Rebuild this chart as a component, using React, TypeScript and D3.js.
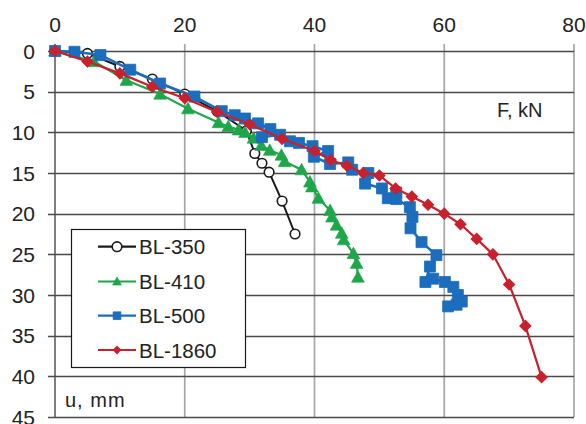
import React from "react";
import * as d3 from "d3";

const W = 586;
const H = 424;

const xTicks = [0, 20, 40, 60, 80];
const yTicks = [0, 5, 10, 15, 20, 25, 30, 35, 40, 45];

const seriesNames = ["BL-350", "BL-410", "BL-500", "BL-1860"];

const bl350F = [0, 5, 10, 15, 20, 25, 29.5, 30.8, 31.9, 33.0, 35.0, 37.0];
const bl350U = [0, 0.3, 1.9, 3.45, 5.3, 7.4, 9.8, 12.6, 13.8, 14.9, 18.45, 22.5];

const bl410F = [0, 6, 11, 16.2, 20.5, 25.2, 26.7, 28.3, 29.3, 30.6, 31.8, 33.1, 34.9, 35.4, 38.0, 39.3, 39.6, 40.6, 42.4, 42.7, 43.4, 44.2, 44.5, 46.0, 46.5, 46.7];
const bl410U = [0, 1.3, 3.6, 5.3, 7.1, 8.8, 9.3, 9.7, 10.0, 10.7, 11.6, 12.2, 12.8, 13.6, 14.6, 16.1, 16.7, 18.1, 19.6, 20.4, 21.4, 22.4, 23.2, 24.9, 26.1, 27.8];

const bl500F = [0, 3, 7, 11.6, 16.2, 21.5, 25.7, 27.7, 29.3, 31.3, 33.2, 31.9, 34.7, 36.2, 37.6, 39.7, 42.1, 39.9, 42.4, 45.2, 45.8, 48.3, 47.8, 50.4, 51.3, 52.6, 52.6, 54.7, 55.1, 54.8, 56.5, 58.8, 57.8, 57.1, 58.3, 60.1, 61.4, 62.1, 62.7, 61.9, 60.6];
const bl500U = [0, 0.1, 0.5, 2.3, 4.0, 5.6, 7.4, 7.9, 8.3, 8.9, 9.6, 10.6, 10.3, 11.1, 11.3, 11.7, 12.3, 13.0, 13.9, 13.7, 14.6, 15.0, 16.3, 16.9, 18.1, 17.4, 18.2, 19.2, 20.4, 21.8, 23.5, 25.1, 26.5, 28.4, 28.0, 28.4, 29.0, 30.0, 30.8, 31.2, 31.4];

const bl1860F = [0, 5, 10, 15, 20, 25, 30, 35, 40, 42.5, 45, 47.5, 50, 52.5, 55, 57.5, 60, 62.5, 65, 67.5, 70, 72.5, 75];
const bl1860U = [0, 1.3, 2.75, 4.4, 5.8, 7.5, 9.0, 10.8, 12.3, 13.4, 14.1, 15.0, 15.3, 16.9, 17.9, 18.9, 20.0, 21.3, 23.1, 25.0, 28.7, 33.8, 40.1];

const colors = ["#1a1a1a", "#1fa64a", "#1c6dbd", "#c8202c"];
const markers = ["circle", "triangle", "square", "diamond"];

const FONT = "'Liberation Sans', Arial, sans-serif";
const TXT = "#222";

type Pt = [number, number];

function Marker({ kind, x, y, color, scale = 1 }: { kind: string; x: number; y: number; color: string; scale?: number }) {
  if (kind === "circle") {
    const r = 4.8 * scale;
    return <circle cx={x} cy={y} r={r} fill="#fff" stroke={color} strokeWidth={1.6} />;
  }
  if (kind === "square") {
    const s = 11 * scale;
    return <rect x={x - s / 2} y={y - s / 2} width={s} height={s} fill={color} stroke={color} strokeWidth={0.8} strokeLinejoin="round" />;
  }
  if (kind === "diamond") {
    const s = 6.3 * scale;
    return <path d={`M${x},${y - s}L${x + s},${y}L${x},${y + s}L${x - s},${y}Z`} fill={color} />;
  }
  const s = 6.4 * scale;
  return <path d={`M${x},${y - s}L${x + s},${y + s * 0.8}L${x - s},${y + s * 0.8}Z`} fill={color} stroke={color} strokeWidth={0.6} strokeLinejoin="round" />;
}

export default function App() {
  const x = d3.scaleLinear().domain([0, 80]).range([55, 574]);
  const y = d3.scaleLinear().domain([0, 45]).range([51, 417]);

  const data: Pt[][] = [
    bl350F.map((f, i) => [f, bl350U[i]] as Pt),
    bl410F.map((f, i) => [f, bl410U[i]] as Pt),
    bl500F.map((f, i) => [f, bl500U[i]] as Pt),
    bl1860F.map((f, i) => [f, bl1860U[i]] as Pt),
  ];
  const widths = [2, 2.2, 2.6, 2.2];

  const line = d3
    .line<Pt>()
    .x((d) => x(d[0]))
    .y((d) => y(d[1]));

  const legX = 71;
  const legY = 229;
  const legW = 174;
  const legH = 138;
  const rowYs = [246.7, 281.5, 315.7, 350];

  return (
    <svg width={W} height={H} style={{ position: "absolute", left: 0, top: 0, background: "#fff" }} fontFamily={FONT}>
      <rect x={0} y={0} width={W} height={H} fill="#fff" />
      {/* vertical gridlines */}
      {xTicks.map((t) => (
        <line key={"vx" + t} x1={x(t)} x2={x(t)} y1={44} y2={y(45)} stroke={t === 0 ? "#3a3a3a" : "#a6a6a6"} strokeWidth={t === 0 ? 1.3 : 1.7} />
      ))}
      {/* horizontal gridlines */}
      {yTicks.map((t) => (
        <line key={"hy" + t} x1={48} x2={x(80)} y1={Math.round(y(t)) + 0.5} y2={Math.round(y(t)) + 0.5} stroke="#4a4a4a" strokeWidth={1.3} />
      ))}
      {/* x tick labels */}
      {xTicks.map((t) => (
        <text key={"xl" + t} x={x(t)} y={32} textAnchor="middle" fontSize={21} fill={TXT}>
          {t}
        </text>
      ))}
      {/* y tick labels */}
      {yTicks.map((t) => (
        <text key={"yl" + t} x={35} y={y(t) + 7.5} textAnchor="end" fontSize={21} fill={TXT}>
          {t}
        </text>
      ))}
      <text x={497} y={117} fontSize={20} fill={TXT}>
        F, kN
      </text>
      <text x={65} y={407} fontSize={20} fill={TXT} letterSpacing={1}>
        u, mm
      </text>

      {/* series */}
      {data.map((pts, si) => (
        <g key={"s" + si}>
          <path d={line(pts) || ""} fill="none" stroke={colors[si]} strokeWidth={widths[si]} strokeLinejoin="round" />
          {pts.map((p, i) => (
            <Marker key={i} kind={markers[si]} x={x(p[0])} y={y(p[1])} color={colors[si]} />
          ))}
        </g>
      ))}

      {/* legend */}
      <rect x={legX + 0.5} y={legY + 0.5} width={legW} height={legH} fill="#fff" stroke="#1a1a1a" strokeWidth={1.2} />
      {seriesNames.map((n, i) => (
        <g key={"lg" + i}>
          <line x1={98} x2={136} y1={rowYs[i]} y2={rowYs[i]} stroke={colors[i]} strokeWidth={2.2} />
          <Marker kind={markers[i]} x={117} y={rowYs[i]} color={colors[i]} scale={i === 0 ? 1 : 0.7} />
          <text x={139} y={rowYs[i] + 7.5} fontSize={20.5} fill={TXT}>
            {n}
          </text>
        </g>
      ))}
    </svg>
  );
}
